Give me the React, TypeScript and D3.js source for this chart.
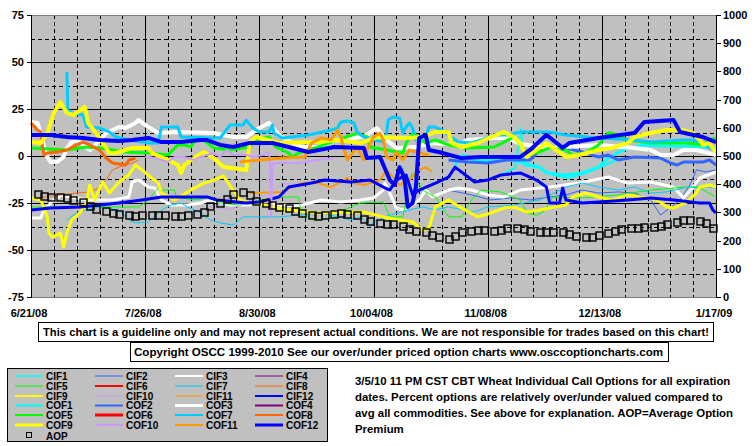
import React from "react";
import * as d3 from "d3";

const X_TICK_LABELS = ["6/21/08", "7/26/08", "8/30/08", "10/04/08", "11/08/08", "12/13/08", "1/17/09"];
const LEFT_TICKS = [75, 50, 25, 0, -25, -50, -75];
const RIGHT_TICKS = [1000, 900, 800, 700, 600, 500, 400, 300, 200, 100, 0];

// [day offset from 6/21/08, percent]
const CIF1 = [[144,-10.1],[148.4,-6.4],[150.2,14.9],[151.1,-4.8],[156,-6.4],[160,-10.1],[165,-11.7],[171,-8.5],[176,-4.8],[181,-1.1]];
const CIF2 = [[128,-18.1],[135,-20.7],[141,-23.4],[147,-22.3],[153,-23.4],[159,-21.8],[164,-20.7],[169,-18.1],[174,-19.7],[180,-19.1],[185,-19.7],[190,-23.4],[193,-31.4],[195,-28.7],[199,-23.4],[202,-15.4],[204,-7.4],[207,-8.5],[210,-7.4]];
const CIF3 = [[0,-33],[3,-33],[4,-28.7],[7,-23.4],[9.5,-20.7],[13.5,-22.3],[18,-23.4],[25,-23.4],[30,-21.8],[31,-13.8],[33,-12.8],[36,-16.5],[38,-17],[40,-23.4],[43,-26.1],[48,-26.1],[52,-25],[55,-23.4],[61,-26.1],[67,-26.1],[72,-23.4],[76,-26.1],[82,-26.6],[89,-23.4],[95,-24.5],[101,-23.4],[105,-22.3],[108,-18.1],[108.5,-14.4],[110,-19.7],[112,-27.7],[114,-28.7],[116,-27.1],[119,-23.4],[121,-18.1],[123,-21.8],[128,-18.1],[131,-17],[135,-18.1],[140,-20.7],[145,-21.8],[150,-18.1],[159,-16.5],[168,-14.4],[177,-11.2],[180,-12.8],[183,-14.4],[190,-13.8],[197,-16.5],[200,-22.3],[203,-16.5],[205,-11.7],[210,-8.5]];
const CIF4: number[][] = [];
const CIF5 = [[0,-27.1],[9,-27.1],[21,-27.1],[33,-27.1],[36,-23.4],[39,-17],[40,-18.1],[44,-18.1],[44.5,-21.8],[50,-23.4],[55,-21.8],[58,-25],[64,-26.1],[70,-23.4],[76,-21.8],[82,-21.8],[83,-32.4],[88,-34],[93,-33],[96,-28.7],[101,-25],[108,-24.5],[110,-32.4],[114,-32.4],[115,-23.4],[116,-12.8],[117,-9],[120,-18.1],[124,-21.8],[128,-32.4],[132,-32.4],[135,-23.4],[138,-18.1],[144,-19.1],[150,-23.4],[152,-30.3],[155,-31.4],[157,-29.8],[160,-21.8],[169,-22.3],[180,-20.7],[190,-18.1],[201,-16.5],[205,-17],[210,-21.8]];
const CIF6: number[][] = [];
const CIF7 = [[11,-34],[14,-30.3],[17,-28.7],[21,-27.1],[27,-28.7],[30,-34],[32,-35.6],[36,-35.1],[40,-28.7],[43,-26.1],[46,-25],[48,-27.1],[52,-30.3],[55,-34],[58,-35.6],[62,-36.7],[65,-32.4],[70,-32.4],[76,-32.4],[82,-31.4],[89,-30.3],[98,-34],[101,-32.4],[104,-37.8],[105,-35.1],[110,-31.4],[116,-28.7],[120,-27.1],[124,-28.7],[128,-27.1],[136,-29.8],[140,-27.1],[148,-26.1],[156,-23.4],[164,-16.5],[169,-14.4],[174,-16.5],[180,-18.1],[185,-16.5],[190,-19.7],[195,-19.1],[200,-17],[205,-16],[210,-17]];
const CIF8 = [[0,-23.4],[4,-21.8],[9,-20.7],[14,-19.7],[18,-19.1],[21,-17],[23,-12.8],[25,-7.4],[27,-5.9],[31,-3.7],[33,-2.1]];
const CIF9 = [[0,-22.3],[3,-23.4],[5,-32.4],[5.5,-41],[6.5,-43.1],[9,-41],[10,-48.4],[11,-41],[12.5,-34],[15,-30.3],[17,-25],[18,-15.4],[19.5,-23.4],[22,-13.8],[24,-19.7],[27,-13.8],[30,-10.1],[32,-4.8],[34,-7.4],[37,-11.7],[39,-14.4],[40,-19.7],[44,-23.4],[49,-18.1],[53,-14.4],[56,-12.8],[59,-10.6],[64,-23.4],[67,-25],[72,-26.1],[77,-28.2],[88,-30.3],[98,-29.8],[102,-29.8],[108,-32.4],[113,-34],[117,-35.1],[120,-39.4],[122,-38.3],[123,-32.4],[124,-27.1],[128,-23.4],[129,-24.5],[132,-27.7],[137,-32.4],[141,-30.3],[145,-27.7],[148,-27.1],[152,-29.8],[156,-28.7],[159,-27.7],[164,-26.1],[166,-21.8],[170,-19.7],[174,-21.8],[178,-23.4],[183,-20.7],[187,-21.8],[192,-23.4],[195,-27.1],[197,-27.7],[201,-24.5],[204,-19.7],[205,-16.5],[208,-15.4],[210,-16.5]];
const CIF10 = [[49,-31.4],[52,-28.7],[56,-27.1],[60,-28.7],[62,-27.7],[66,-25],[68,-23.4],[70,-21.8],[73,-20.7],[77,-14.4],[82,-15.4],[86,-13.8]];
const CIF11 = [[67,-19.7],[77,-19.1],[80,-16.5],[83,-14.4],[88,-14.4],[92,-16.5],[95,-13.8],[97,-11.7],[99,-14.4],[102,-15.4],[105,-13.8],[107,-12.8],[109,-7.4],[111,-11.2],[113,-15.4],[116,-12.8],[119,-7.4],[121,-5.9],[123,-8.5]];
const CIF12 = [[0,-28.7],[6,-27.7],[15,-27.1],[21,-26.1],[27,-25],[34,-23.4],[40,-21.8],[54,-21.8],[57,-23.4],[66,-25],[70,-24.5],[76,-21.8],[79,-16.5],[86,-14.4],[90,-12.8],[98,-13.8],[104,-12.8],[108,-16.5],[110,-18.1],[112,-12.8],[115,-10.1],[117,-20.7],[119,-18.1],[124,-14.4],[128,-11.2],[130,-5.9],[134,-11.2],[136,-13.8],[140,-12.8],[144,-10.1],[150,-9],[155,-12.8],[158,-16.5],[159,-25],[162,-25],[163,-17],[164,-23.4],[169,-25],[174,-24.5],[183,-23.4],[190,-22.3],[197,-23.4],[205,-25],[208,-25],[209,-28.7],[210,-30.3]];
const COF1 = [[130,-4.8],[132.4,0.5],[135.5,-2.1],[140,-2.1],[144,-1.1],[150,-3.2],[156,-5.9],[158,-9],[164,-10.1],[169,-9],[174,-5.9],[177,-1.1],[181.5,3.2],[187.6,5.9],[193,5.3],[202,5.3],[210,4.3]];
const COF2 = [[128,-2.1],[134,-3.2],[140,-3.7],[146,-2.1],[153,-2.1],[156,3.2],[159,4.8],[164,4.3],[169,2.1],[172,0.5],[174,-0.5],[177,0.5],[180,-2.1],[185,-0.5],[193,-1.1],[196,-3.7],[198,-4.8],[200,-3.2],[206,-3.2],[208,-2.1],[210,-4.8]];
const COF3 = [[0,18.1],[2,17.6],[3,12.2],[4,4.8],[5,-0.5],[6,-3.2],[8,-3.2],[10,-0.5],[11,4.3],[12.5,7.4],[14,8.5],[16,5.9],[18,3.2],[19,4.3],[21,8.5],[23,12.2],[25,13.8],[27,15.4],[29,14.9],[32,17.6],[33,19.1],[36,15.4],[39,12.2],[45,12.8],[56,12.2],[62,10.1],[66,10.1],[70,14.9],[73,17.6],[76,11.2],[80,6.9],[83,4.8],[88,4.8],[94,8.5],[102,10.1],[106,14.9],[109,8.5],[112,4.3],[118,4.8],[123,6.9],[131,5.9],[134,8.5],[142,9.6],[146,9.6],[150,6.4],[159,4.3],[174,5.9],[185,4.3],[190,3.2],[193,0.5],[197,0.5],[200,3.2],[204,3.2],[210,0.5]];
const COF4: number[][] = [];
const COF5 = [[0,4.3],[11,3.2],[17,4.8],[21,4.3],[29,2.1],[36,1.6],[42,0.5],[45,5.9],[47,5.9],[49,4.8],[51,10.1],[53,8.5],[56,4.3],[61,3.2],[67,4.8],[69,8.5],[73,10.1],[75,4.8],[79,1.6],[80,-0.5],[82,1.6],[88,4.8],[94,8.5],[100,12.2],[103,10.1],[104,4.8],[109,3.2],[114,1.6],[115,6.9],[117,12.2],[119,10.1],[121,6.9],[124,8.5],[128,5.9],[134,4.3],[142,4.8],[145,7.4],[148,10.1],[152,2.1],[155,1.6],[159,4.3],[164,3.2],[166,0.5],[170,1.6],[174,5.9],[177,12.2],[178,12.2],[183,8.5],[190,6.9],[201,6.9],[206,5.9],[208,8.5],[210,9.6]];
const COF6: number[][] = [];
const COF7 = [[11,44.7],[11.3,24.5],[12.6,22.9],[16,21.8],[17,15.4],[21,14.9],[24,12.8],[26,10.1],[30,8.5],[36.5,6.9],[39,6.9],[40,15.4],[45,15.4],[46,10.1],[55,9.6],[58,9.6],[61,16.5],[65,16.5],[66,19.1],[68,14.9],[70,12.8],[73,12.8],[74,16.5],[74.5,12.2],[77,9.6],[85,11.2],[92,13.8],[94,14.9],[95,18.1],[97,18.6],[99,17.6],[100,12.8],[102,10.1],[108,7.4],[109,12.2],[109.5,19.1],[111,20.7],[113,20.2],[114,12.2],[115,15.4],[116,17.6],[117,14.9],[118,8.5],[121,10.1],[122,15.4],[124,15.4],[126,13.8],[128,11.2],[131,7.4],[135,6.9],[138,8.5],[142,11.2],[146,11.2],[150,12.8],[159,12.8],[164,11.2],[174,9.6],[185,8.5],[190,7.4],[200,8.5],[203,8.5],[206,6.9],[208,4.3],[210,3.2]];
const COF8 = [[0,17.6],[2,13.8],[3,12.8],[3.5,4.8],[4,0.5],[5,1.6],[8,2.1],[11,3.2],[14,5.9],[16,7.4],[18,5.9],[21,3.2],[23,-1.1],[25,-3.7],[29,-4.8],[30,-2.1],[32,-1.1]];
const COF9 = [[0,7.4],[3,6.9],[5,12.2],[7,22.9],[9,28.7],[11,22.9],[13,21.8],[16.5,26.1],[17.5,17.6],[20,12.2],[22,6.9],[24,1.6],[26,1.6],[31,4.3],[36,4.3],[37,1.6],[42,-2.1],[45,-4.8],[46,-9],[47,-4.8],[50,-1.1],[53,2.1],[56,-1.1],[59,-5.9],[66,-7.4],[67,7.4],[69,10.1],[76,6.9],[88,7.4],[94,8.5],[101,6.9],[106,10.1],[115,9.6],[120,10.1],[124,12.8],[128,12.8],[129,6.9],[132,4.8],[137,6.9],[141,10.1],[145,12.8],[148,10.1],[150,6.9],[152,-0.5],[155,3.2],[158,6.9],[161,3.2],[164,-0.5],[168,0.5],[174,3.2],[178,4.3],[183,6.9],[185,10.1],[190,12.2],[195,13.8],[200,13.8],[203,12.2],[205,8.5],[206,5.9],[208,6.9],[209,4.3],[210,2.1]];
const COF10 = [[35,-0.5],[36.5,-0.5],[40,-2.1],[42,-3.2],[44,-0.5],[47,-0.5],[50,-2.1],[52,-0.5],[56,1.6],[58,-0.5],[60,3.2],[62,0.5],[66,0.5],[68,-0.5],[71,0.5],[73,2.1],[73.3,-6],[73.6,-32],[74,-4],[77,-3.7],[82,-3.7],[88,-2.1],[93,-1.1]];
const COF11 = [[64,-3.2],[70,-2.1],[77,-1.1],[84,-0.5],[86,6.9],[89,9.6],[92,8.5],[94,13.8],[95,10.1],[96,3.2],[97,-2.1],[100,4.8],[102,-2.1],[103,3.2],[105,10.1],[107,12.2],[108,8.5],[109,-0.5],[111,-2.1],[112,2.1],[114,-2.1],[116,3.2],[119,1.6],[122,0.5]];
const COF12 = [[0,11.2],[6,11.2],[11,10.1],[16,9.6],[21,8.5],[27,8],[31,8.5],[36,9.6],[40,7.4],[46,7.4],[52,8.5],[54,8.5],[58,5.9],[62,4.8],[67,6.9],[74,6.9],[79,4.8],[85,2.1],[93,4.8],[102,4.3],[103,-1.1],[107,-0.5],[110,-12.8],[111.5,-15.4],[113,-5.9],[114.5,-11.7],[115.5,-27.1],[117,-25],[118,-16.5],[119,9.6],[121,11.2],[122,3.2],[125,2.1],[132,-1.1],[138,-0.5],[150,-0.5],[153,3.2],[158,11.2],[160,8.5],[163,4.3],[165,6.9],[174,9.6],[185,12.2],[188,18.1],[197,19.1],[199,12.8],[206,10.1],[210,7.4]];

// Average Option Premium (right axis), Mon / Wed / Fri of each week from 6/23/08
const AOP = [
  365,358,355, 355,351,344, 337,323,312, 305,298,294, 291,287,291, 291,291,291,
  287,287,291, 294,301,323, 333,348,365, 372,362,340, 333,326,319, 316,305,298,
  291,287,291, 294,298,294, 291,277,270, 262,259,259, 252,241,234, 230,220,213,
  206,216,230, 234,238,238, 234,238,245, 245,241,234, 230,230,230, 230,223,216,
  213,213,220, 227,234,241, 245,245,248, 248,252,259, 266,273,273, 270,262,245
];

const SERIES_NAMES = ["CIF1","CIF2","CIF3","CIF4","CIF5","CIF6","CIF7","CIF8","CIF9","CIF10","CIF11","CIF12","COF1","COF2","COF3","COF4","COF5","COF6","COF7","COF8","COF9","COF10","COF11","COF12"];
const SERIES_DATA = [CIF1,CIF2,CIF3,CIF4,CIF5,CIF6,CIF7,CIF8,CIF9,CIF10,CIF11,CIF12,COF1,COF2,COF3,COF4,COF5,COF6,COF7,COF8,COF9,COF10,COF11,COF12];
const SERIES_COLORS = ["#00FFFF","#3366FF","#FFFFFF","#800080","#00FF00","#FF0000","#00CCFF","#FF6600","#FFFF00","#CC99FF","#FF9900","#0000FF",
  "#00FFFF","#3366FF","#FFFFFF","#800080","#00FF00","#FF0000","#00CCFF","#FF6600","#FFFF00","#CC99FF","#FF9900","#0000FF"];
const PLOT_WIDTHS = [2,1,3,1,1,3,1,1,3,1,2,3, 3,3,4,3,3,4,3,3,4,2,3,4];
const LEGEND_WIDTHS = [1.5,1,2,1,1,2,1,1,2,1,1,2, 2,2,3,2,2,3,2,2,3,2,2,3];

const BOX1_TEXT = "This chart is a guideline only and may not represent actual conditions. We are not responsible for trades based on this chart!";
const BOX2_TEXT = "Copyright OSCC 1999-2010 See our over/under priced option charts www.osccoptioncharts.com";
const NOTE_LINES = [
  "3/5/10 11 PM CST CBT Wheat Individual Call Options for all expiration",
  "dates. Percent options are relatively over/under valued compared to",
  "avg all commodities. See above for explanation. AOP=Average Option",
  "Premium",
];

const FONT = "'Liberation Sans', Arial, sans-serif";

export default function App() {
  const L = 31, R = 716, T = 15, B = 297;
  const parse = d3.timeParse("%m/%d/%y");
  const tickDates = X_TICK_LABELS.map((s) => parse(s) as Date);
  const start = tickDates[0];
  const end = tickDates[tickDates.length - 1];
  const x = d3.scaleTime().domain([start, end]).range([L, R]);
  const y = d3.scaleLinear().domain([-75, 75]).range([B, T]);
  const y2 = d3.scaleLinear().domain([0, 1000]).range([B, T]);
  const dayToDate = (d: number) => new Date(start.getTime() + d * 86400000);

  const line = d3
    .line<number[]>()
    .x((p) => x(dayToDate(p[0])))
    .y((p) => y(p[1]));

  const weekly = d3.timeDay.range(start, d3.timeDay.offset(end, 1), 7);
  const hMinor = d3.range(-62.5, 75, 25);
  const hMajor = [-50, -25, 0, 25, 50];

  const aopDates = AOP.map((_, i) => d3.timeDay.offset(start, 2 + 7 * Math.floor(i / 3) + 2 * (i % 3)));

  const legendRows = [376, 386, 396, 405.5, 415, 425];
  const legendCols = [15, 95, 175, 255];

  return (
    <svg width={755} height={446} style={{ position: "absolute", left: 0, top: 0, background: "#fff" }} fontFamily={FONT} fontWeight="bold">
      <rect x={0} y={0} width={755} height={446} fill="#fff" />
      <rect x={L} y={T} width={R - L} height={B - T} fill="#C0C0C0" />
      {weekly.map((d, i) => {
        const xi = Math.round(x(d)) + 0.5;
        const major = i % 5 === 0;
        if (i === 0 || i === weekly.length - 1) return null;
        return (
          <line key={"v" + i} x1={xi} x2={xi} y1={T} y2={B} stroke="#000" strokeWidth={1} strokeDasharray={major ? undefined : "4,3"} />
        );
      })}
      {hMinor.map((v) => (
        <line key={"hm" + v} x1={L} x2={R} y1={Math.round(y(v)) + 0.5} y2={Math.round(y(v)) + 0.5} stroke="#000" strokeDasharray="4,3" />
      ))}
      {hMajor.map((v) => (
        <line key={"hM" + v} x1={L} x2={R} y1={Math.round(y(v)) + 0.5} y2={Math.round(y(v)) + 0.5} stroke="#000" />
      ))}
      <line x1={L} x2={R} y1={T + 0.5} y2={T + 0.5} stroke="#808080" />
      <line x1={L} x2={R} y1={B + 0.5} y2={B + 0.5} stroke="#808080" />

      <g strokeLinejoin="round" fill="none">
        {SERIES_DATA.map((data, i) =>
          data.length ? (
            <path key={SERIES_NAMES[i]} d={line(data as number[][]) || ""} stroke={SERIES_COLORS[i]} strokeWidth={PLOT_WIDTHS[i]} />
          ) : null
        )}
      </g>
      {AOP.map((v, i) => (
        <rect key={"a" + i} x={Math.round(x(aopDates[i])) - 3} y={Math.round(y2(v)) - 3} width={7} height={7} fill="none" stroke="#000" strokeWidth={1.4} />
      ))}

      <line x1={L + 0.5} x2={L + 0.5} y1={T} y2={B + 1} stroke="#000" />
      <line x1={R + 0.5} x2={R + 0.5} y1={T} y2={B + 1} stroke="#000" />
      {LEFT_TICKS.map((v) => (
        <g key={"lt" + v}>
          <line x1={L - 4} x2={L} y1={Math.round(y(v)) + 0.5} y2={Math.round(y(v)) + 0.5} stroke="#000" />
          <text x={24} y={y(v) + 4} fontSize={11} textAnchor="end">{v}</text>
        </g>
      ))}
      {RIGHT_TICKS.map((v) => (
        <g key={"rt" + v}>
          <line x1={R} x2={R + 5} y1={Math.round(y2(v)) + 0.5} y2={Math.round(y2(v)) + 0.5} stroke="#000" />
          <text x={723} y={y2(v) + 4} fontSize={11}>{v}</text>
        </g>
      ))}
      {X_TICK_LABELS.map((s, i) => (
        <text key={s} x={x(tickDates[i]) - 2} y={317} fontSize={11} textAnchor="middle">{s}</text>
      ))}

      <rect x={38.5} y={322.5} width={675} height={19} fill="#fff" stroke="#000" />
      <text x={43} y={336} fontSize={11} textLength={666} lengthAdjust="spacingAndGlyphs">{BOX1_TEXT}</text>
      <rect x={130.5} y={342.5} width={538} height={19} fill="#fff" stroke="#000" />
      <text x={134} y={356} fontSize={11} textLength={529} lengthAdjust="spacingAndGlyphs">{BOX2_TEXT}</text>

      <rect x={7.5} y={368.5} width={320} height={73} fill="#C0C0C0" stroke="#000" />
      {SERIES_NAMES.map((name, i) => {
        const row = i < 12 ? Math.floor(i / 4) : 3 + Math.floor((i - 12) / 4);
        const col = i % 4;
        const cx = legendCols[col];
        const cy = legendRows[row];
        return (
          <g key={"lg" + name}>
            <line x1={cx} x2={cx + 28} y1={cy} y2={cy} stroke={SERIES_COLORS[i]} strokeWidth={LEGEND_WIDTHS[i]} />
            <text x={cx + 31} y={cy + 3.5} fontSize={10}>{name}</text>
          </g>
        );
      })}
      <rect x={26.5} y={432.5} width={5} height={5} fill="none" stroke="#000" />
      <text x={46} y={439.5} fontSize={10}>AOP</text>

      {NOTE_LINES.map((s, i) => (
        <text key={"n" + i} x={355} y={385 + i * 16} fontSize={11.4}>{s}</text>
      ))}
    </svg>
  );
}
